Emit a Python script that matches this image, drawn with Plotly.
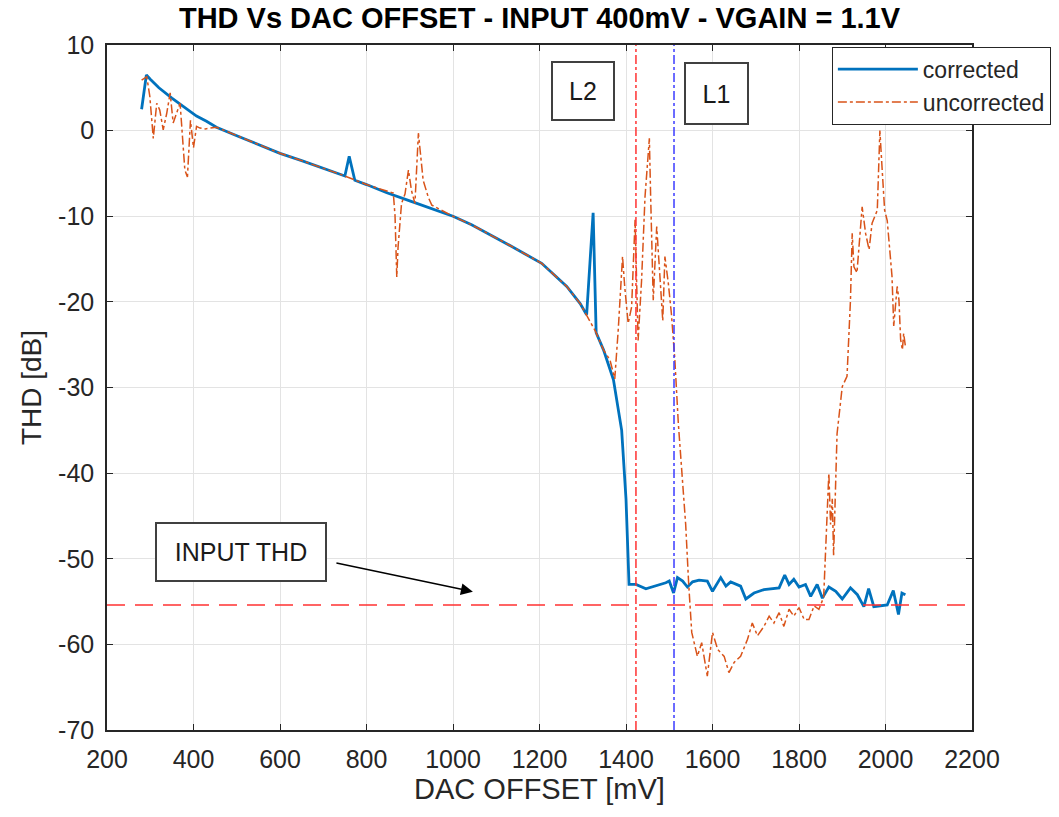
import plotly.graph_objects as go

# ---------------- data ----------------
corrected_x = [280, 291, 300, 320, 350, 380, 407, 430, 453, 500, 550, 600, 650, 700, 740, 750, 760, 773,
               800, 847, 900, 950, 1000, 1043, 1100, 1124, 1205, 1263, 1294, 1309, 1324, 1331, 1348, 1371,
               1390, 1400, 1407, 1423, 1446, 1461, 1477, 1492, 1500, 1510, 1519, 1531, 1542, 1554, 1569,
               1588, 1600, 1619, 1631, 1642, 1665, 1677, 1696, 1719, 1754, 1767, 1777, 1788, 1800, 1815,
               1827, 1842, 1854, 1869, 1885, 1900, 1919, 1935, 1950, 1961, 1973, 2004, 2018, 2030, 2038, 2046]
corrected_y = [2.5, 6.5, 6.0, 5.0, 3.8, 2.7, 1.7, 1.1, 0.4, -0.6, -1.6, -2.65, -3.5, -4.4, -5.1, -5.3, -3.0, -5.8,
               -6.3, -7.25, -8.2, -9.1, -10.0, -11.0, -12.5, -13.2, -15.5, -18.2, -20.2, -21.5, -9.6, -23.6, -25.6, -29.1,
               -35.0, -43.0, -53.0, -53.0, -53.5, -53.3, -53.0, -52.8, -52.6, -54.0, -52.2, -52.6, -53.3, -52.7, -52.5,
               -52.6, -53.8, -52.2, -53.2, -52.7, -53.2, -54.7, -54.0, -53.6, -53.4, -51.9, -53.0, -52.4, -53.3, -53.0,
               -54.4, -53.0, -54.6, -53.3, -53.8, -54.7, -53.4, -54.2, -55.6, -53.5, -55.6, -55.4, -53.7, -56.5, -54.0, -54.2]

uncorrected_x = [280, 292, 299, 307, 315, 322, 330, 338, 346, 353, 369, 380, 386, 393, 400, 407, 415, 427, 453,
                 500, 550, 600, 650, 700, 750, 800, 847, 862, 866, 870, 873, 881, 889, 897, 904, 912, 920, 925,
                 931, 943, 951, 1000, 1043, 1124, 1205, 1263, 1294, 1330, 1348, 1363, 1374, 1382, 1392, 1397,
                 1405, 1413, 1421, 1428, 1436, 1444, 1449, 1454, 1457, 1463, 1471, 1478, 1485, 1490, 1498, 1505,
                 1513, 1521, 1530, 1538, 1545, 1552, 1565, 1575, 1588, 1600, 1612, 1627, 1638, 1650, 1665, 1681,
                 1692, 1704, 1719, 1731, 1742, 1754, 1765, 1777, 1788, 1800, 1812, 1823, 1835, 1846, 1857, 1861,
                 1867, 1869, 1873, 1877, 1880, 1888, 1900, 1911, 1919, 1923, 1927, 1934, 1946, 1954, 1962, 1969,
                 1981, 1987, 1992, 1998, 2004, 2015, 2019, 2027, 2031, 2035, 2039, 2042, 2046]
uncorrected_y = [5.9, 6.3, 4.0, -0.9, 3.2, 2.4, 0.1, 2.0, 4.4, 0.9, 3.2, -4.6, -5.4, 1.2, -2.0, 0.5, 0.3, 0.2, 0.4,
                 -0.6, -1.6, -2.65, -3.5, -4.4, -5.3, -6.3, -7.0, -7.3, -10.0, -17.1, -13.6, -8.5, -7.4, -4.6, -7.0, -8.5, -0.3, -3.0,
                 -5.8, -7.8, -8.7, -10.0, -11.0, -13.2, -15.5, -18.2, -20.2, -23.5, -25.6, -26.8, -29.0, -23.3, -14.7, -18.2,
                 -22.5, -20.6, -10.4, -24.5, -17.5, -7.7, -4.6, -0.9, -7.7, -19.8, -11.2, -16.3, -22.2, -14.7, -17.9, -21.4,
                 -26.8, -34.2, -40.0, -46.0, -53.0, -58.6, -61.4, -59.8, -63.7, -58.6, -60.6, -61.4, -63.3, -62.1, -61.4, -59.4,
                 -57.5, -59.0, -57.9, -56.7, -57.5, -56.3, -57.9, -55.9, -56.7, -55.7, -57.1, -57.1, -55.5, -55.9, -54.5, -50.0,
                 -42.0, -40.0, -46.0, -43.0, -49.6, -35.4, -29.9, -28.7, -19.8, -12.0, -15.9, -16.6, -8.9, -12.0, -13.9, -10.8,
                 -9.3, 0.0, -4.3, -9.3, -10.5, -17.0, -22.8, -18.2, -19.7, -24.4, -25.6, -23.7, -25.2]

input_thd = -55.4
l2_x = 1423
l1_x = 1511
x_ticks = [200, 400, 600, 800, 1000, 1200, 1400, 1600, 1800, 2000, 2200]
y_ticks = [10, 0, -10, -20, -30, -40, -50, -60, -70]
y_tick_labels = ["10", "0", "-10", "-20", "-30", "-40", "-50", "-60", "-70"]

FONT = "Liberation Sans, Arial, Helvetica, sans-serif"
AX = "#262626"

fig = go.Figure()
fig.add_trace(go.Scatter(x=corrected_x, y=corrected_y, mode="lines", name="corrected",
                         line=dict(color="#0072BD", width=2.8)))
fig.add_trace(go.Scatter(x=uncorrected_x, y=uncorrected_y, mode="lines", name="uncorrected",
                         line=dict(color="#D95319", width=1.5, dash="dashdot")))

# reference lines
fig.add_shape(type="line", xref="paper", x0=0, x1=1, yref="y", y0=input_thd, y1=input_thd,
              line=dict(color="rgb(255,50,50)", width=1.5, dash="18px,10px"))
fig.add_shape(type="line", xref="x", x0=l2_x, x1=l2_x, yref="paper", y0=0, y1=1,
              line=dict(color="rgb(255,50,50)", width=1.5, dash="dashdot"))
fig.add_shape(type="line", xref="x", x0=l1_x, x1=l1_x, yref="paper", y0=0, y1=1,
              line=dict(color="rgb(60,60,255)", width=1.5, dash="dashdot"))

box_style = dict(showarrow=False, bgcolor="white", bordercolor="#404040", borderwidth=2,
                 borderpad=0, font=dict(family=FONT, size=25, color="#1a1a1a"))
fig.add_annotation(x=1300, y=4.6, xref="x", yref="y", text="L2", width=60, height=56, **box_style)
fig.add_annotation(x=1609, y=4.3, xref="x", yref="y", text="L1", width=61, height=59, **box_style)
fig.add_annotation(x=509, y=-49.2, xref="x", yref="y", text="INPUT THD", width=168, height=56, **box_style)

# arrow
fig.add_annotation(x=1046, y=-53.85, xref="x", yref="y", ax=727, ay=-50.46, axref="x", ayref="y",
                   text="", showarrow=True, arrowhead=2, arrowsize=1.6, arrowwidth=1.5, arrowcolor="black")

fig.update_layout(
    width=1059, height=817,
    margin=dict(l=107, r=87, t=45, b=87, autoexpand=False),
    paper_bgcolor="white", plot_bgcolor="white",
    font=dict(family=FONT, color=AX),
    title=dict(text="<b>THD Vs DAC OFFSET - INPUT 400mV - VGAIN = 1.1V</b>", x=0.5, xref="paper",
               xanchor="center", y=0.978, yref="container", yanchor="middle",
               font=dict(family=FONT, size=29, color="black")),
    legend=dict(x=0.838, y=0.9975, xanchor="left", yanchor="top", bgcolor="white",
                bordercolor=AX, borderwidth=1, font=dict(family=FONT, size=23, color=AX),
                itemwidth=80, tracegroupgap=0),
    showlegend=True,
)
fig.update_xaxes(range=[200, 2200], tickvals=x_ticks, ticks="inside", ticklen=6, tickcolor=AX,
                 showline=True, linecolor=AX, linewidth=1.5, mirror="allticks", automargin=False,
                 showgrid=True, gridcolor="#e3e3e3", gridwidth=1, zeroline=False,
                 ticklabelstandoff=6,
                 tickfont=dict(family=FONT, size=25, color=AX),
                 title=dict(text="DAC OFFSET [mV]", font=dict(family=FONT, size=29, color=AX), standoff=6))
fig.update_yaxes(range=[-70, 10], tickvals=y_ticks, ticktext=y_tick_labels, ticks="inside", ticklen=6,
                 tickcolor=AX, showline=True, linecolor=AX, linewidth=1.5, mirror="allticks", automargin=False,
                 showgrid=True, gridcolor="#e3e3e3", gridwidth=1, zeroline=False,
                 ticklabelstandoff=6,
                 tickfont=dict(family=FONT, size=25, color=AX),
                 title=dict(text="THD [dB]", font=dict(family=FONT, size=28, color=AX), standoff=8))

fig.write_html("out.html")
